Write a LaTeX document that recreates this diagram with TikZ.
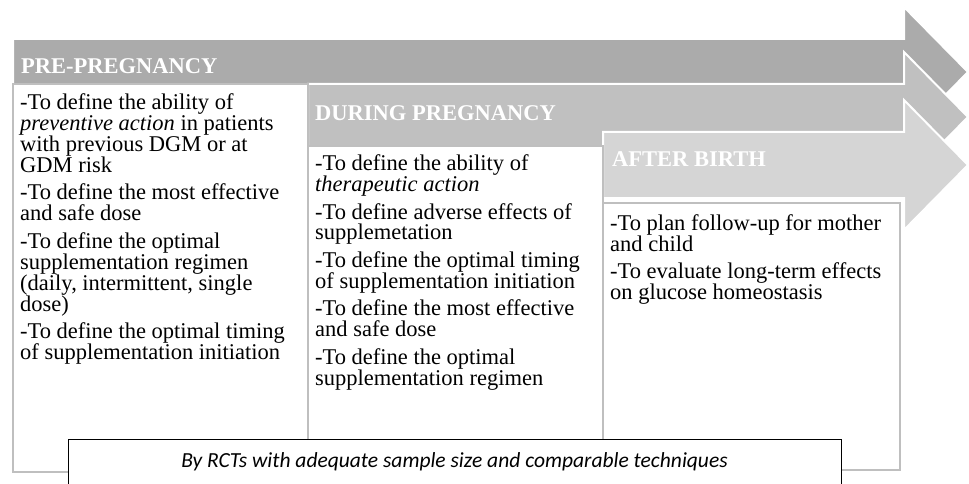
\documentclass[tikz,border=0pt]{standalone}
\usepackage{fontspec}
\setmainfont{Liberation Serif}
\newfontfamily\rctfont{Carlito}
\definecolor{arrowA}{HTML}{ABABAB}
\definecolor{arrowB}{HTML}{C0C0C0}
\definecolor{arrowC}{HTML}{D5D5D5}
\definecolor{boxgray}{HTML}{BFBFBF}
\newcommand\phasearrow[3]{%
  \fill[#3, draw=white, line width=2pt, line join=miter]
    (#1,#2-33) -- (904,#2-33) -- (904,#2-65) -- (968,#2) --
    (904,#2+65) -- (904,#2+33) -- (#1,#2+33) -- cycle;}
\newcommand\bodypar[1]{\parbox[t]{290pt}{\raggedright\parindent=0pt\parskip=6.5pt #1}}
\begin{document}
\begin{tikzpicture}[x=1pt,y=-1pt,
  phasebox/.style={draw=boxgray, line width=2pt, fill=white, anchor=north west,
    inner sep=0pt, outer sep=0pt},
  header/.style={anchor=base west, inner sep=0pt, text=white,
    font=\fontsize{22.5}{21}\selectfont\bfseries},
  bodytext/.style={anchor=base west, inner sep=0pt,
    font=\fontsize{22.5}{21}\selectfont},
  rctbox/.style={draw=black, line width=1pt, fill=white, anchor=north west,
    inner sep=0pt, minimum width=773pt, minimum height=50pt},
  rcttext/.style={inner sep=0pt, font=\rctfont\itshape\fontsize{21.5}{24}\selectfont}]
\useasboundingbox (0,0) rectangle (969,484);
\fill[white] (0,0) rectangle (969,484);
% arrows
\phasearrow{13}{72}{arrowA}
\phasearrow{308}{117}{arrowB}
\phasearrow{603}{165}{arrowC}
% boxes
\node[phasebox, minimum width=295pt, minimum height=388pt] (box1) at (13,84) {};
\node[phasebox, minimum width=295pt, minimum height=326pt] (box2) at (308,146) {};
\node[phasebox, minimum width=297pt, minimum height=267pt] (box3) at (603,203) {};
% headers
\node[header] (h1) at (21,74) {PRE-PREGNANCY};
\node[header] (h2) at (315,121) {DURING PREGNANCY};
\node[header] (h3) at (612,167) {AFTER BIRTH};
% texts
\node[bodytext] (t1) at (20,109.5) {\bodypar{%
-To define the ability of\\
\textit{preventive action} in patients\\
with previous DGM or at\\
GDM risk\par
-To define the most effective\\
and safe dose\par
-To define the optimal\\
supplementation regimen\\
(daily, intermittent, single\\
dose)\par
-To define the optimal timing\\
of supplementation initiation}};
\node[bodytext] (t2) at (315,170.5) {\bodypar{%
-To define the ability of\\
\textit{therapeutic action}\par
-To define adverse effects of\\
supplemetation\par
-To define the optimal timing\\
of supplementation initiation\par
-To define the most effective\\
and safe dose\par
-To define the optimal\\
supplementation regimen}};
\node[bodytext] (t3) at (610,230) {\bodypar{%
-To plan follow-up for mother\\
and child\par
-To evaluate long-term effects\\
on glucose homeostasis}};
% RCT box
\node[rctbox] (rct) at (68,439) {};
\node[rcttext] (rtext) at (454.5,462) {By RCTs with adequate sample size and comparable techniques};
\end{tikzpicture}
\end{document}
